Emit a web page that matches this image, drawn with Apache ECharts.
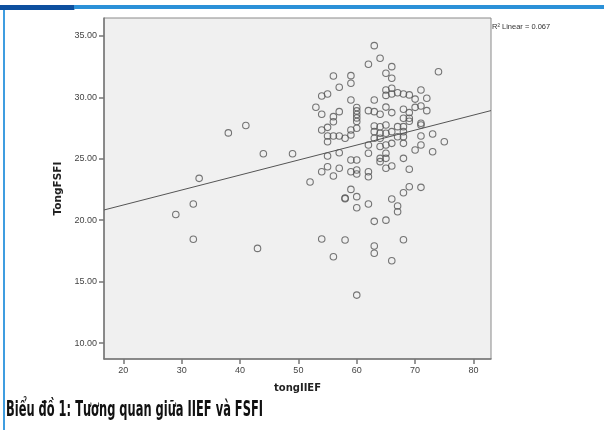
<!DOCTYPE html>
<html><head><meta charset="utf-8">
<script src="https://cdn.jsdelivr.net/npm/echarts@6/dist/echarts.min.js"></script>
<style>html,body{margin:0;padding:0;background:#fff}#c{width:604px;height:430px}</style>
</head><body><div id="c"></div>
<script>
// ---- data ----
const iief = [
  29, 32, 32, 33, 38, 41, 43, 44, 49, 52,
  53,
  54, 54, 54, 54, 54,
  55, 55, 55, 55, 55, 55,
  56, 56, 56, 56, 56, 56,
  57, 57, 57, 57, 57,
  58, 58, 58, 58,
  59, 59, 59, 59, 59, 59, 59, 59,
  60, 60, 60, 60, 60, 60, 60, 60, 60, 60, 60, 60,
  62, 62, 62, 62, 62, 62, 62,
  63, 63, 63, 63, 63, 63, 63, 63, 63,
  64, 64, 64, 64, 64, 64, 64, 64,
  65, 65, 65, 65, 65, 65, 65, 65, 65, 65, 65,
  66, 66, 66, 66, 66, 66, 66, 66, 66, 66,
  67, 67, 67, 67, 67,
  68, 68, 68, 68, 68, 68, 68, 68, 68, 68,
  69, 69, 69, 69, 69, 69,
  70, 70, 70,
  71, 71, 71, 71, 71, 71, 71,
  72, 72,
  73, 73,
  74,
  75
];
const fsfi = [
  20.46, 21.31, 18.44, 23.40, 27.10, 27.70, 17.70, 25.40, 25.40, 23.10,
  29.19,
  30.10, 28.62, 27.34, 23.94, 18.46,
  30.27, 27.55, 26.85, 26.38, 25.22, 24.35,
  31.73, 28.42, 28.01, 26.85, 23.59, 17.02,
  30.81, 28.83, 26.85, 25.49, 24.22,
  26.66, 21.80, 21.75, 18.38,
  31.76, 31.14, 29.78, 27.34, 26.93, 24.89, 23.94, 22.50,
  29.17, 28.89, 28.60, 28.32, 28.03, 27.48, 24.89, 24.08, 23.75, 21.91, 21.01, 13.90,
  32.69, 28.91, 26.12, 25.44, 23.94, 23.53, 21.31,
  34.20, 29.78, 28.83, 27.66, 27.20, 26.66, 19.90, 17.90, 17.30,
  33.18, 28.62, 27.60, 27.07, 26.66, 25.99, 25.03, 24.76,
  31.95, 30.59, 30.15, 29.20, 27.74, 27.07, 26.12, 25.44, 25.03, 24.22, 20.00,
  32.49, 31.55, 30.73, 30.27, 28.75, 27.20, 26.25, 24.40, 21.72, 16.69,
  30.37, 27.61, 26.79, 21.15, 20.68,
  30.27, 29.02, 28.29, 27.61, 27.20, 26.79, 26.25, 25.03, 22.23, 18.40,
  30.19, 28.75, 28.29, 28.05, 24.14, 22.72,
  29.85, 29.18, 25.71,
  30.59, 29.29, 27.88, 27.74, 26.85, 26.12, 22.67,
  29.92, 28.91,
  27.01, 25.57,
  32.08,
  26.38
];
const xTicks = [20, 30, 40, 50, 60, 70, 80];
const yTicks = [10, 15, 20, 25, 30, 35];
const fitIntercept = 18.79;
const fitSlope = 0.122;
const r2Text = 'R\u00B2 Linear = 0.067';
const xTitle = 'tongIIEF';
const yTitle = 'TongFSFI';
const caption = 'Biểu đồ 1: Tương quan giữa IIEF và FSFI';

// ---- layout ----
const xMin = 16.7, xMax = 83.0, yMin = 8.7, yMax = 36.45;
const points = iief.map((x, i) => [x, fsfi[i]]);
const fitLine = [[xMin, fitIntercept + fitSlope * xMin], [xMax, fitIntercept + fitSlope * xMax]];

const capFont = 'bold 22px "Liberation Sans Narrow", "DejaVu Sans Condensed", "Liberation Sans", sans-serif';
const mctx = document.createElement('canvas').getContext('2d');
mctx.font = capFont;
const capScale = 257 / mctx.measureText(caption).width;

const chart = echarts.init(document.getElementById('c'), null, {renderer: 'canvas'});
chart.setOption({
  animation: false,
  backgroundColor: '#fff',
  grid: {left: 104, right: 113, top: 18, bottom: 71, show: true, backgroundColor: '#f0f0f0', borderColor: '#8a8a8a', borderWidth: 1},
  xAxis: {
    type: 'value', min: xMin, max: xMax,
    name: xTitle, nameLocation: 'middle', nameGap: 24,
    nameTextStyle: {fontFamily: 'DejaVu Sans', fontWeight: 'bold', fontSize: 10, color: '#222'},
    axisLine: {onZero: false, lineStyle: {color: '#777', width: 1.5}},
    axisTick: {show: true, length: 5, lineStyle: {color: '#777', width: 1.5}, customValues: xTicks},
    axisLabel: {customValues: xTicks, margin: 7, fontFamily: 'Liberation Sans', fontSize: 9, color: '#444'},
    splitLine: {show: false}
  },
  yAxis: {
    type: 'value', min: yMin, max: yMax,
    name: yTitle, nameLocation: 'middle', nameGap: 34, nameRotate: 90,
    nameTextStyle: {fontFamily: 'DejaVu Sans', fontWeight: 'bold', fontSize: 10.5, color: '#222'},
    axisLine: {show: true, onZero: false, lineStyle: {color: '#777', width: 1.5}},
    axisTick: {show: true, length: 5, lineStyle: {color: '#777', width: 1.5}, customValues: yTicks},
    axisLabel: {customValues: yTicks, margin: 7, fontFamily: 'Liberation Sans', fontSize: 9, color: '#444',
      formatter: v => v.toFixed(2)},
    splitLine: {show: false}
  },
  series: [
    {type: 'line', data: fitLine, symbol: 'none', lineStyle: {color: '#555', width: 1}, z: 1, silent: true},
    {type: 'scatter', data: points, symbol: 'circle', symbolSize: 6.5,
      itemStyle: {color: 'rgba(0,0,0,0)', borderColor: '#555', borderWidth: 1.1}, z: 2}
  ],
  graphic: [
    {type: 'polygon', shape: {points: [[0, 5], [78, 5], [74, 10], [0, 10]]}, style: {fill: '#0d4f9f'}},
    {type: 'rect', shape: {x: 74, y: 5, width: 530, height: 4}, style: {fill: '#2b91d8'}},
    {type: 'rect', shape: {x: 3, y: 10, width: 2, height: 420}, style: {fill: '#3f9de0'}},
    {type: 'text', x: 492, y: 27, style: {text: r2Text, fontFamily: 'Liberation Sans', fontSize: 7.5, fill: '#333', verticalAlign: 'middle'}},
    {type: 'text', x: 6, y: 410, scaleX: capScale, style: {text: caption, font: capFont, fill: '#111', verticalAlign: 'middle'}}
  ]
});
</script></body></html>
